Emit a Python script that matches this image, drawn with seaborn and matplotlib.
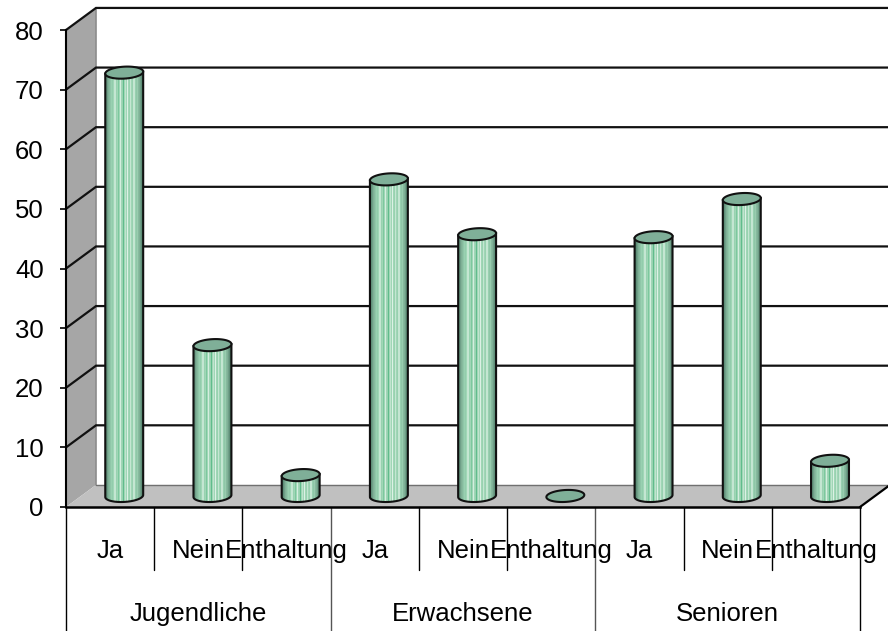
import numpy as np
import pandas as pd
import matplotlib
matplotlib.use("Agg")
import matplotlib.pyplot as plt
from matplotlib.patches import Polygon
from matplotlib.colors import ListedColormap
import seaborn as sns

groups = ["Jugendliche", "Erwachsene", "Senioren"]
answers = ["Ja", "Nein", "Enthaltung"]
jugendliche = [71.0, 25.3, 3.5]
erwachsene = [53.1, 43.9, 0.0]
senioren = [43.4, 49.8, 5.9]
y_ticks = [0, 10, 20, 30, 40, 50, 60, 70, 80]
stripe_colors = ["#4F7F68", "#5F8F78", "#6F9F88", "#7FB096", "#86BA9E", "#8FC6A8", "#98D0B0", "#92CCAC",
                 "#A0D6B6", "#C4E6D2", "#98D2B0", "#A0D6B6", "#7CC89E", "#A0D6B6", "#D4EEDF", "#A0D6B6",
                 "#98D2B0", "#60BC8C", "#A0D6B6", "#BFE4CE", "#A0D6B6", "#DCF1E5", "#A0D6B6", "#98D2B0",
                 "#C4E6D2", "#A0D6B6", "#98D0B0", "#C4E6D2", "#98D0B0", "#8FC6A8", "#98CCAE", "#86BA9E",
                 "#7FB096", "#6F9F88", "#5F8F78", "#4F7F68"]

df = pd.DataFrame({
    "id": [f"{g}-{a}" for g in groups for a in answers],
    "group": [g for g in groups for _ in answers],
    "answer": [a for _ in groups for a in answers],
    "value": jugendliche + erwachsene + senioren,
})

sns.set_style("white")
plt.rcParams["font.family"] = ["Liberation Sans", "DejaVu Sans"]
W, H = 888, 631
fig = plt.figure(figsize=(W / 100, H / 100), dpi=100, facecolor="white")
ax = fig.add_axes([66 / W, (H - 507) / H, 794 / W, 477 / H])
ax.patch.set_alpha(0)

DX, DY = 0.34, 3.7      # depth of the box, in data units
BX, BY = 0.16, 1.85     # bars stand in the middle of the floor
EH = 2.0                # ellipse height, in value units
TILT = 0.8              # ellipse tilt, value units per category unit

sns.barplot(data=df, x="id", y="value", order=list(df["id"]), width=0.43,
            color="#A5DBBC", saturation=1, ax=ax, zorder=3, legend=False)
bars = list(ax.patches)
ax.set_xlim(-0.5, 8.5)
ax.set_ylim(0, 80)
x0, x1 = -0.5, 8.5
top = y_ticks[-1]

# box
ax.add_patch(Polygon([(x0, 0), (x0, top), (x0 + DX, top + DY), (x0 + DX, DY)], closed=True,
                     fc="#A6A6A6", ec="none", zorder=1, clip_on=False))
ax.add_patch(Polygon([(x0, 0), (x1, 0), (x1 + DX, DY), (x0 + DX, DY)], closed=True,
                     fc="#C0C0C0", ec="none", zorder=1, clip_on=False))
ax.plot([x0 + DX, x0 + DX], [DY, top + DY], color="#8C8C8C", lw=1.2, zorder=1.5, clip_on=False)
ax.plot([x0 + DX, x1 + DX], [DY, DY], color="#707070", lw=1.0, zorder=1.5, clip_on=False)
for v in y_ticks[1:]:
    ax.plot([x0, x0 + DX, x1 + DX], [v, v + DY, v + DY], color="#111111", lw=1.6,
            zorder=2, clip_on=False, solid_joinstyle="miter")
ax.plot([x1, x1 + DX], [0, DY], color="black", lw=1.6, zorder=2, clip_on=False)

# cylinders from the seaborn bars
cmap = ListedColormap(stripe_colors)
stripes = np.arange(len(stripe_colors)).reshape(1, -1)
theta = np.linspace(0, 2 * np.pi, 81)


def ellipse_point(cx, cy, w, t):
    dx = w / 2 * np.cos(t)
    return cx + dx, cy + EH / 2 * np.sin(t) + TILT * dx


for patch in bars:
    left = patch.get_x() + BX
    w = patch.get_width()
    h = patch.get_height()
    cx = left + w / 2
    patch.set_visible(False)
    if h > 0:
        lower = [ellipse_point(cx, BY, w, t) for t in theta[40:]]
        outline = [ellipse_point(cx, BY + h, w, np.pi)] + lower + [ellipse_point(cx, BY + h, w, 0)]
        body = Polygon(outline, closed=True, fc="none", ec="#111111", lw=1.5, zorder=4, clip_on=False)
        ax.add_patch(body)
        im = ax.imshow(stripes, cmap=cmap, aspect="auto", interpolation="nearest", zorder=3.5,
                       extent=(left, left + w, BY - EH, BY + h + EH))
        im.set_clip_path(Polygon(outline, closed=True, transform=ax.transData))
    ax.add_patch(Polygon([ellipse_point(cx, BY + h, w, t) for t in theta], closed=True,
                         fc="#7FAF98", ec="#111111", lw=1.5, zorder=5, clip_on=False))
ax.set_xlim(x0, x1)
ax.set_ylim(0, top)

# axes
for s in ["top", "right"]:
    ax.spines[s].set_visible(False)
for s, lw in [("left", 1.5), ("bottom", 1.8)]:
    ax.spines[s].set_linewidth(lw)
    ax.spines[s].set_color("black")
ax.set_xlabel("")
ax.set_ylabel("")
ax.set_xticks([])
ax.set_yticks(y_ticks)
ax.set_yticklabels([str(v) for v in y_ticks])
ax.tick_params(axis="y", left=True, length=4.5, width=1.2, labelsize=18.5, pad=11.5,
               color="black", labelcolor="black")

# two level category axis
for i, a in enumerate(df["answer"]):
    ax.text(i, -7.4, a, ha="center", va="center", fontsize=18.5, color="black", clip_on=False, zorder=6)
for j, g in enumerate(groups):
    ax.text(3 * j + 1, -17.9, g, ha="center", va="center", fontsize=18.5, color="black", clip_on=False, zorder=6)
for i in range(10):
    low = -21 if i % 3 == 0 else -10.5
    color = "#555555" if i in (3, 6) else "black"
    ax.plot([i - 0.5, i - 0.5], [0, low], color=color, lw=1.0, clip_on=False, zorder=2)

fig.savefig("out.png", dpi=100, facecolor="white")
